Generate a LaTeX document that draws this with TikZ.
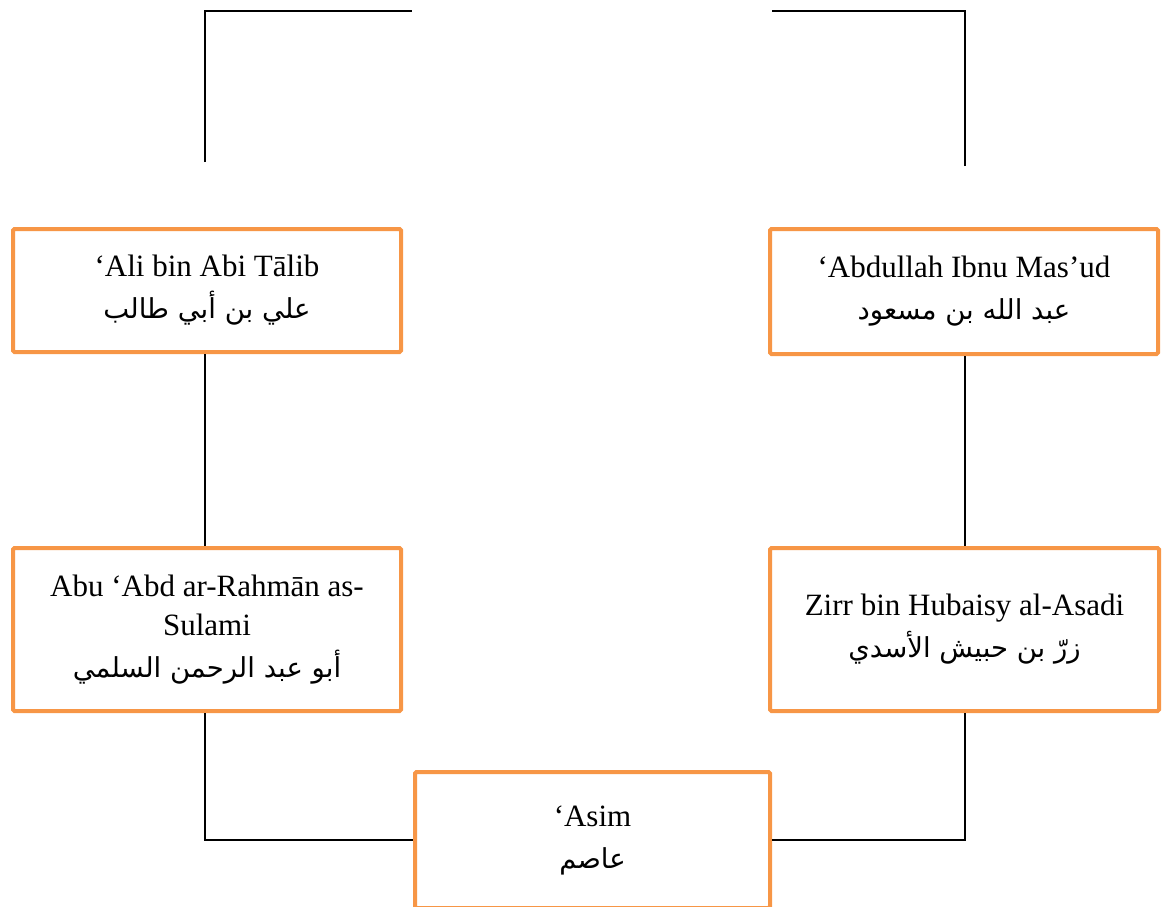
\documentclass[tikz,border=0pt]{standalone}
\usepackage{fontspec}
\setmainfont{Liberation Serif}
\newfontfamily\arabicfont[Script=Arabic]{DejaVu Sans}
\TeXXeTstate=1
\definecolor{boxorange}{HTML}{F79646}
\tikzset{
  namebox/.style={draw=boxorange, line width=4pt, rounded corners=1.5pt, fill=white,
    align=center, inner sep=0pt, font=\fontsize{31}{42}\selectfont},
  link/.style={draw=black, line width=1.6pt},
  toplink/.style={draw=black, line width=1.8pt}
}
\newcommand{\ar}[1]{{\arabicfont\fontsize{27.5}{42}\selectfont\beginR #1\endR}}
\begin{document}
\begin{tikzpicture}[x=1pt,y=-1pt]
\useasboundingbox (0,0) rectangle (1168,906);
\clip (0,0) rectangle (1168,906);
% boxes
\node[namebox, minimum width=388pt, minimum height=123pt] (ali) at (207,290.5)
  {‘Ali bin Abi Tālib\\ \ar{علي بن أبي طالب}};
\node[namebox, minimum width=388pt, minimum height=125pt] (abd) at (964,291.5)
  {‘Abdullah Ibnu Mas’ud\\ \ar{عبد الله بن مسعود}};
\node[namebox, minimum width=388pt, minimum height=163pt] (abu) at (207,629.5)
  {Abu ‘Abd ar-Rahmān as-\\[-3pt] Sulami\\ \ar{أبو عبد الرحمن السلمي}};
\node[namebox, minimum width=389pt, minimum height=163pt] (zirr) at (964.5,629.5)
  {Zirr bin Hubaisy al-Asadi\\ \ar{زرّ بن حبيش الأسدي}};
\node[namebox, minimum width=355pt, minimum height=136pt] (asim) at (592.5,840)
  {‘Asim\\ \ar{عاصم}};
% free ends at the top
\coordinate (tlb) at (205,162);
\coordinate (tle) at (412,11);
\coordinate (trb) at (965,166);
\coordinate (tre) at (772,11);
\draw[link] (tlb) -- (tlb |- tle);
\draw[toplink] ([xshift=-0.8pt]tlb |- tle) -- (tle);
\draw[link] (trb) -- (trb |- tre);
\draw[toplink] ([xshift=0.8pt]trb |- tre) -- (tre);
% connectors
\draw[link] ([xshift=-2pt]ali.south) -- ([xshift=-2pt]abu.north);
\draw[link] ([xshift=1pt]abd.south) -- ([xshift=0.5pt]zirr.north);
\draw[link] ([xshift=-2pt]abu.south) |- (asim.west);
\draw[link] ([xshift=0.5pt]zirr.south) |- (asim.east);
\end{tikzpicture}
\end{document}
